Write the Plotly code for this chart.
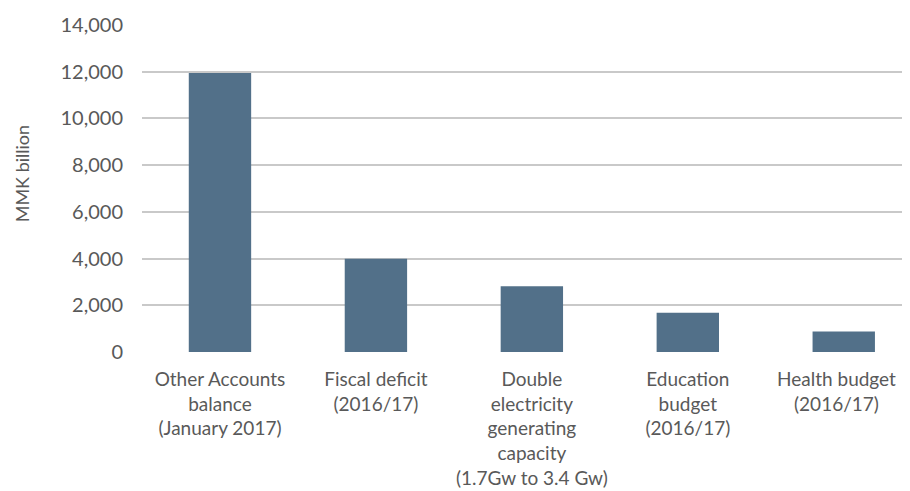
import plotly.graph_objects as go

categories = [
    "Other Accounts<br>balance<br>(January 2017)",
    "Fiscal deficit<br>(2016/17)",
    "Double<br>electricity<br>generating<br>capacity<br>(1.7Gw to 3.4 Gw)",
    "Education<br>budget<br>(2016/17)",
    "Health budget\u00a0\u00a0\u00a0<br>(2016/17)\u00a0\u00a0\u00a0",
]
values = [11950, 3990, 2820, 1680, 880]
y_ticks = [0, 2000, 4000, 6000, 8000, 10000, 12000, 14000]

fig = go.Figure()
fig.add_trace(go.Bar(
    x=list(range(len(categories))),
    y=values,
    marker=dict(color="#527089", line=dict(width=0)),
    width=0.4,
))

font_family = "Lato, 'Open Sans', sans-serif"
fig.update_layout(
    width=902, height=483,
    margin=dict(l=134, r=0, t=17, b=139),
    paper_bgcolor="white", plot_bgcolor="white",
    showlegend=False,
    font=dict(family=font_family, size=19, color="#595959"),
    xaxis=dict(
        tickmode="array",
        tickvals=list(range(len(categories))),
        ticktext=categories,
        range=[-0.5, 4.412],
        showgrid=False, zeroline=False, showline=False,
        ticks="", ticklabelstandoff=14,
        ticklabeloverflow="allow",
        tickfont=dict(size=19, color="#595959"),
    ),
    yaxis=dict(
        range=[0, 14000],
        tickvals=y_ticks,
        tickformat=",",
        showgrid=True, gridcolor="#c9c9c9", gridwidth=2,
        zeroline=False, showline=False, ticks="",
        ticklabelstandoff=18,
        tickfont=dict(size=20, color="#595959"),
    ),
    annotations=[dict(
        text="MMK billion", textangle=-90,
        xref="paper", yref="paper",
        x=(14 - 134) / 768, y=(352 - 8 - 166) / 327,
        xanchor="center", yanchor="middle", showarrow=False,
        font=dict(size=18, color="#595959"),
    )],
)

fig.write_html("out.html")
